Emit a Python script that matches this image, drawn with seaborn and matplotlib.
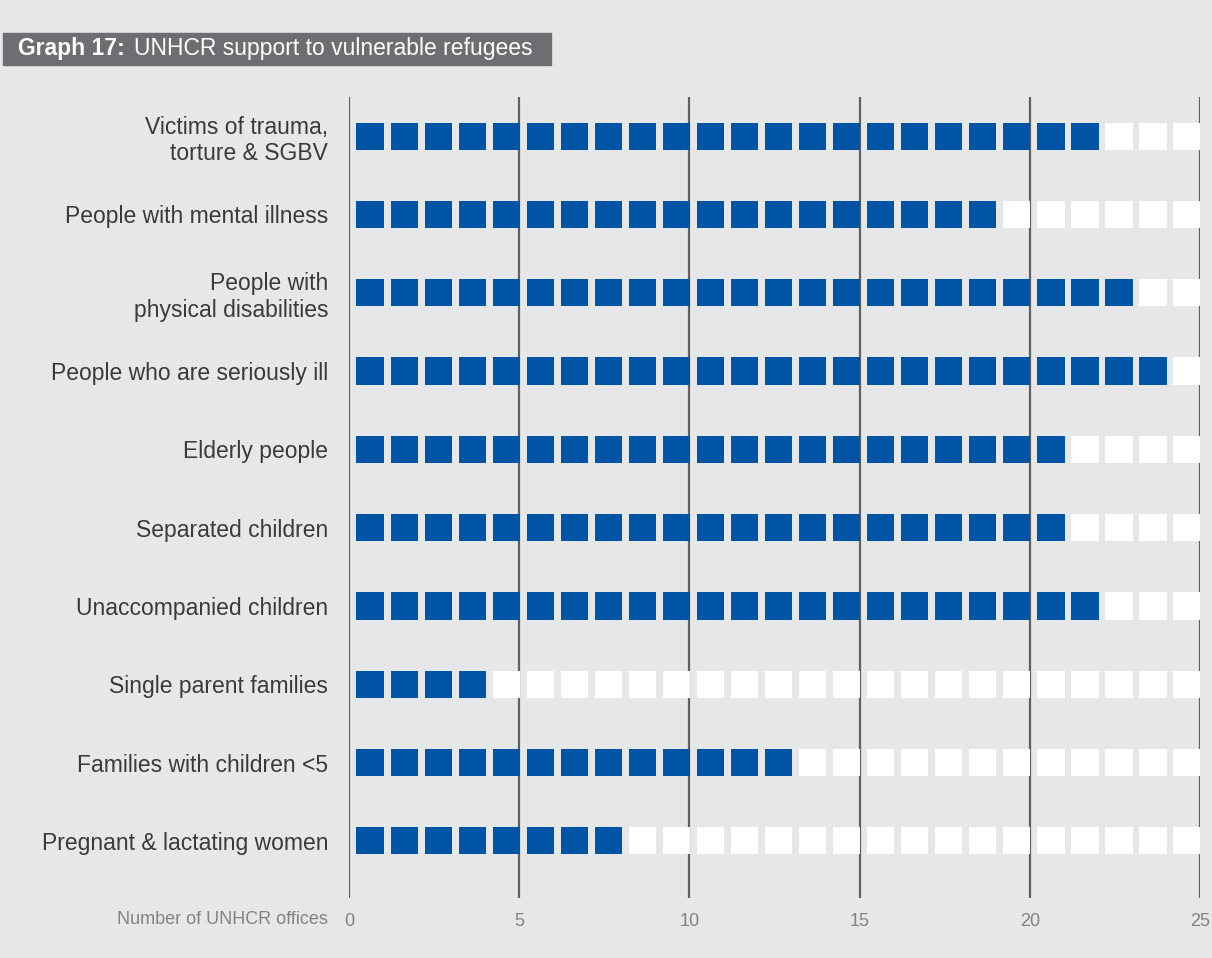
import pandas as pd
import seaborn as sns
import matplotlib
matplotlib.use('Agg')
import matplotlib.pyplot as plt
from matplotlib.patches import Rectangle

# values
groups = ['Victims of trauma,\ntorture & SGBV', 'People with mental illness',
          'People with\nphysical disabilities', 'People who are seriously ill',
          'Elderly people', 'Separated children', 'Unaccompanied children',
          'Single parent families', 'Families with children <5',
          'Pregnant & lactating women']
offices = [22, 19, 23, 24, 21, 21, 22, 4, 13, 8]
total_offices = 25
xticks = [0, 5, 10, 15, 20, 25]

bg = '#e6e7e8'
blue = '#0054a6'
grey_line = '#5f6062'

# one cell per office, filled or empty
rows = []
for i, (g, n) in enumerate(zip(groups, offices)):
    for k in range(total_offices):
        rows.append({'group': i, 'slot': k + 0.62, 'filled': 'yes' if k < n else 'no'})
df = pd.DataFrame(rows)

sns.set_style('white')
plt.rcParams['font.family'] = ['Liberation Sans', 'DejaVu Sans']

fig = plt.figure(figsize=(12.12, 9.58), dpi=100, facecolor=bg)
ax = fig.add_axes([349 / 1212, 1 - 898 / 958, 851 / 1212, 801 / 958])
ax.set_facecolor(bg)

for x in xticks:
    ax.axvline(x, color=grey_line, lw=1.6, zorder=0.5)

sns.scatterplot(data=df, x='slot', y='group', hue='filled',
                palette={'yes': blue, 'no': 'white'}, marker='s', s=385,
                linewidth=0, legend=False, ax=ax, zorder=3)

ax.set_xlim(0, 25)
ax.set_ylim(9.73, -0.5)
ax.set_xticks(xticks)
ax.set_xticklabels([str(x) for x in xticks], color='#808285', fontsize=13)
ax.set_yticks(range(len(groups)))
ax.set_yticklabels(groups, fontsize=16.5, color='#3a3a3c', linespacing=1.2)
ax.tick_params(axis='y', length=0, pad=15)
ax.tick_params(axis='x', length=0, pad=11)
ax.set_xlabel('')
ax.set_ylabel('')
for s in ax.spines.values():
    s.set_visible(False)

fig.text(328 / 1212, 1 - 920 / 958, 'Number of UNHCR offices',
         ha='right', va='center', fontsize=13, color='#808285')

# title bar
fig.patches.append(Rectangle((3 / 1212, 1 - 65 / 958), 548 / 1212, 32 / 958,
                             transform=fig.transFigure, color='#6d6e71', zorder=0))
fig.text(18 / 1212, 1 - 49 / 958, 'Graph 17:', color='white', fontsize=16.5,
         fontweight='bold', va='center', ha='left')
fig.text(134 / 1212, 1 - 49 / 958, 'UNHCR support to vulnerable refugees',
         color='white', fontsize=16.5, va='center', ha='left')

plt.savefig('out.png', dpi=100, facecolor=bg)
